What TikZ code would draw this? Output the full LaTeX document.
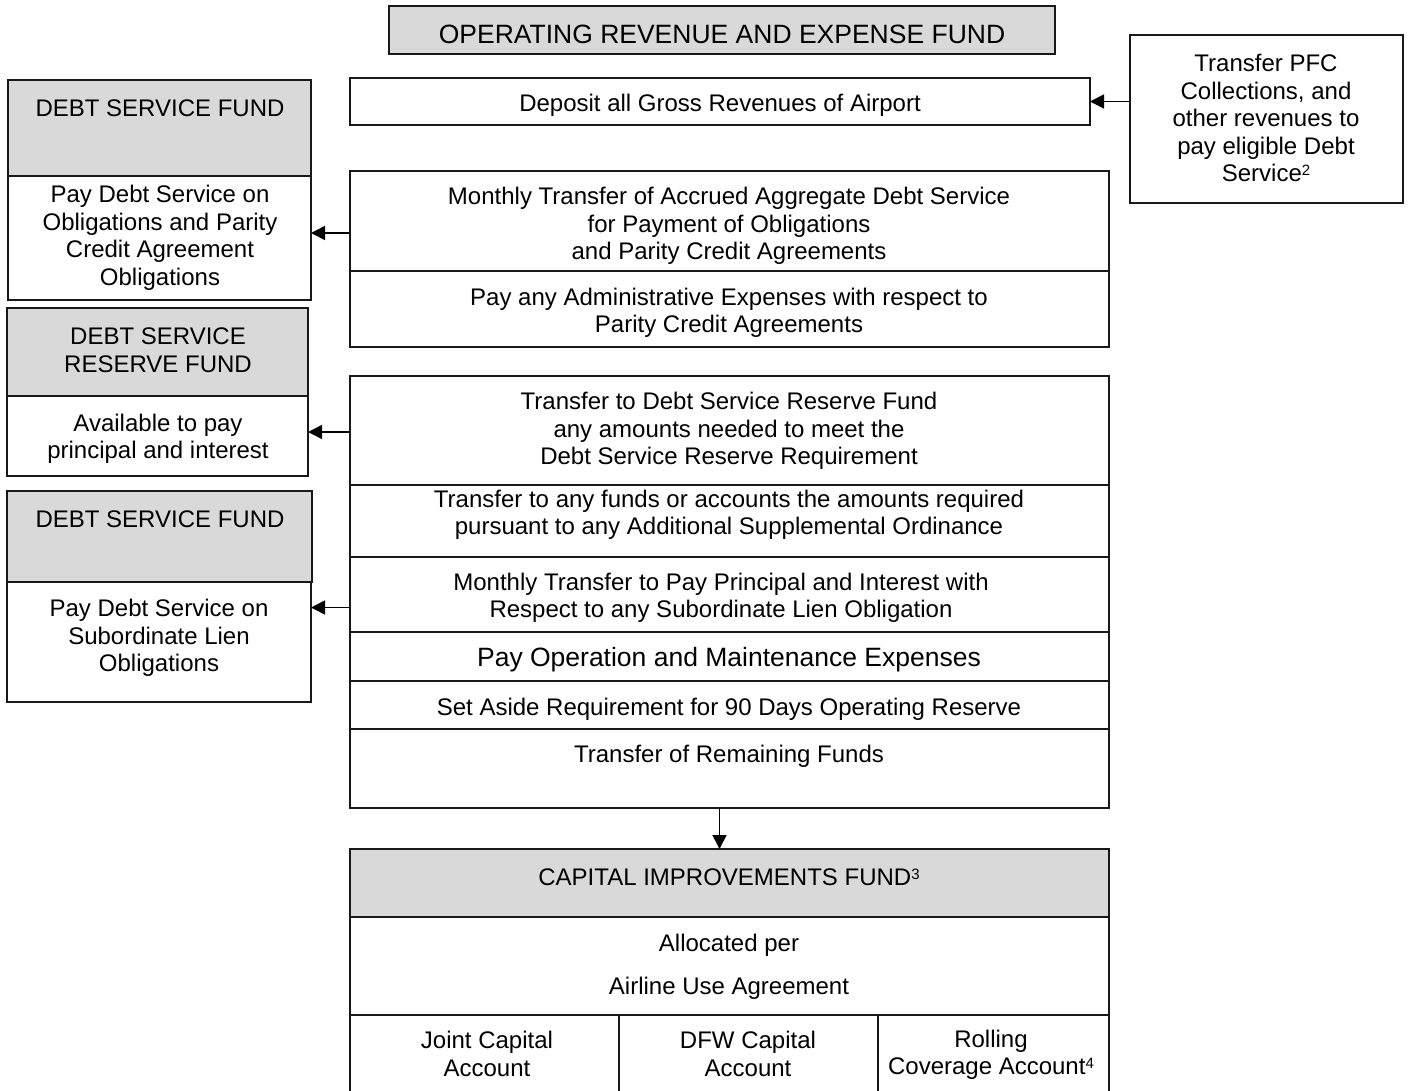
\documentclass[tikz,border=0pt]{standalone}
\usepackage{fontspec}
\setmainfont{Liberation Sans}
\usetikzlibrary{arrows.meta}
\definecolor{fundgray}{HTML}{D9D9D9}
\newcommand{\footmark}[1]{\raisebox{6pt}{\fontsize{15}{15}\selectfont #1}}
\tikzset{
  cell/.style={draw=black!90, line width=1.6pt, rectangle, anchor=north west,
    inner sep=0pt, outer sep=0pt, fill=white},
  head/.style={cell, fill=fundgray},
  txt/.style={align=center, font=\fontsize{24}{27.5}\selectfont, inner sep=0pt, yshift=-3pt},
  bigtxt/.style={align=center, font=\fontsize{26.5}{30}\selectfont, inner sep=0pt, yshift=-2pt},
  arr/.style={line width=1.6pt, -{Triangle[length=14pt,width=14pt]}}
}
\begin{document}
\begin{tikzpicture}[x=1pt,y=-1pt]
    \useasboundingbox (0,0) rectangle (1408,1090);
    % main column
    \node[head, minimum width=666pt, minimum height=48pt] (title) at (389,6) {};
    \node[cell, minimum width=740pt, minimum height=47pt] (deposit) at (350,78) {};
    \node[cell, minimum width=273pt, minimum height=168pt] (pfc) at (1130,35) {};
    \node[cell, minimum width=759pt, minimum height=100pt] (accrued) at (350,171) {};
    \node[cell, minimum width=759pt, minimum height=76pt] (admin) at (350,271) {};
    \node[cell, minimum width=759pt, minimum height=109pt] (reserve) at (350,376) {};
    \node[cell, minimum width=759pt, minimum height=72pt] (supp) at (350,485) {};
    \node[cell, minimum width=759pt, minimum height=75pt] (subpay) at (350,557) {};
    \node[cell, minimum width=759pt, minimum height=49pt] (operate) at (350,632) {};
    \node[cell, minimum width=759pt, minimum height=48pt] (aside) at (350,681) {};
    \node[cell, minimum width=759pt, minimum height=79pt] (remain) at (350,729) {};
    \node[head, minimum width=759pt, minimum height=68pt] (cif) at (350,849) {};
    \node[cell, minimum width=759pt, minimum height=98pt] (alloc) at (350,917) {};
    \node[cell, minimum width=269pt, minimum height=78pt] (joint) at (350,1015) {};
    \node[cell, minimum width=259pt, minimum height=78pt] (dfw) at (619,1015) {};
    \node[cell, minimum width=231pt, minimum height=78pt] (rolling) at (878,1015) {};
    % left funds
    \node[head, minimum width=303pt, minimum height=96pt] (dsfhead) at (8,80) {};
    \node[cell, minimum width=303pt, minimum height=124pt] (dsfbody) at (8,176) {};
    \node[head, minimum width=301pt, minimum height=88pt] (dsrfhead) at (7,308) {};
    \node[cell, minimum width=301pt, minimum height=80pt] (dsrfbody) at (7,396) {};
    \node[head, minimum width=305pt, minimum height=91pt] (subhead) at (7,491) {};
    \node[cell, minimum width=304pt, minimum height=120pt] (subbody) at (7,582) {};
    % texts
    \node[bigtxt] (t-title) at (722,32) {OPERATING REVENUE AND EXPENSE FUND};
    \node[txt] (t-deposit) at (720,102) {Deposit all Gross Revenues of Airport};
    \node[txt] (t-pfc) at (1266,115) {Transfer PFC\\Collections, and\\other revenues to\\pay eligible Debt\\Service\footmark{2}};
    \node[txt] (t-accrued) at (729,223) {Monthly Transfer of Accrued Aggregate Debt Service\\for Payment of Obligations\\and Parity Credit Agreements};
    \node[txt] (t-admin) at (729,310) {Pay any Administrative Expenses with respect to\\Parity Credit Agreements};
    \node[txt] (t-reserve) at (729,428) {Transfer to Debt Service Reserve Fund\\any amounts needed to meet the\\Debt Service Reserve Requirement};
    \node[txt] (t-supp) at (729,512) {Transfer to any funds or accounts the amounts required\\pursuant to any Additional Supplemental Ordinance};
    \node[txt] (t-subpay) at (721,595) {Monthly Transfer to Pay Principal and Interest with\\Respect to any Subordinate Lien Obligation};
    \node[bigtxt] (t-operate) at (729,658) {Pay Operation and Maintenance Expenses};
    \node[txt] (t-aside) at (729,706) {Set Aside Requirement for 90 Days Operating Reserve};
    \node[txt] (t-remain) at (729,753) {Transfer of Remaining Funds};
    \node[txt] (t-cif) at (729,874) {CAPITAL IMPROVEMENTS FUND\footmark{3}};
    \node[txt] (t-alloc) at (729,964) {Allocated per\\[15.5pt]Airline Use Agreement};
    \node[txt] (t-joint) at (487,1051) {Joint Capital\\Account};
    \node[txt] (t-dfw) at (748,1051) {DFW Capital\\Account};
    \node[txt] (t-rolling) at (991,1052) {Rolling\\Coverage Account\footmark{4}};
    \node[txt] (t-dsfhead) at (160,105) {DEBT SERVICE FUND};
    \node[txt] (t-dsfbody) at (160,235) {Pay Debt Service on\\Obligations and Parity\\Credit Agreement\\Obligations};
    \node[txt] (t-dsrfhead) at (158,347) {DEBT SERVICE\\RESERVE FUND};
    \node[txt] (t-dsrfbody) at (158,436) {Available to pay\\principal and interest};
    \node[txt] (t-subhead) at (160,516) {DEBT SERVICE FUND};
    \node[txt] (t-subbody) at (159,635) {Pay Debt Service on\\Subordinate Lien\\Obligations};
    % arrows
    \draw[arr] (pfc.west |- deposit.east) -- (deposit.east);
    \draw[arr] ([yshift=5pt]dsfbody.east -| accrued.west) -- ([yshift=5pt]dsfbody.east);
    \draw[arr] ([yshift=4pt]dsrfbody.east -| reserve.west) -- ([yshift=4pt]dsrfbody.east);
    \draw[arr] ([yshift=-13pt]subpay.west) -- ([yshift=-13pt]subpay.west -| subbody.east);
    \draw[arr] ([xshift=-10pt]remain.south) -- ([xshift=-10pt]remain.south |- cif.north);
\end{tikzpicture}
\end{document}
